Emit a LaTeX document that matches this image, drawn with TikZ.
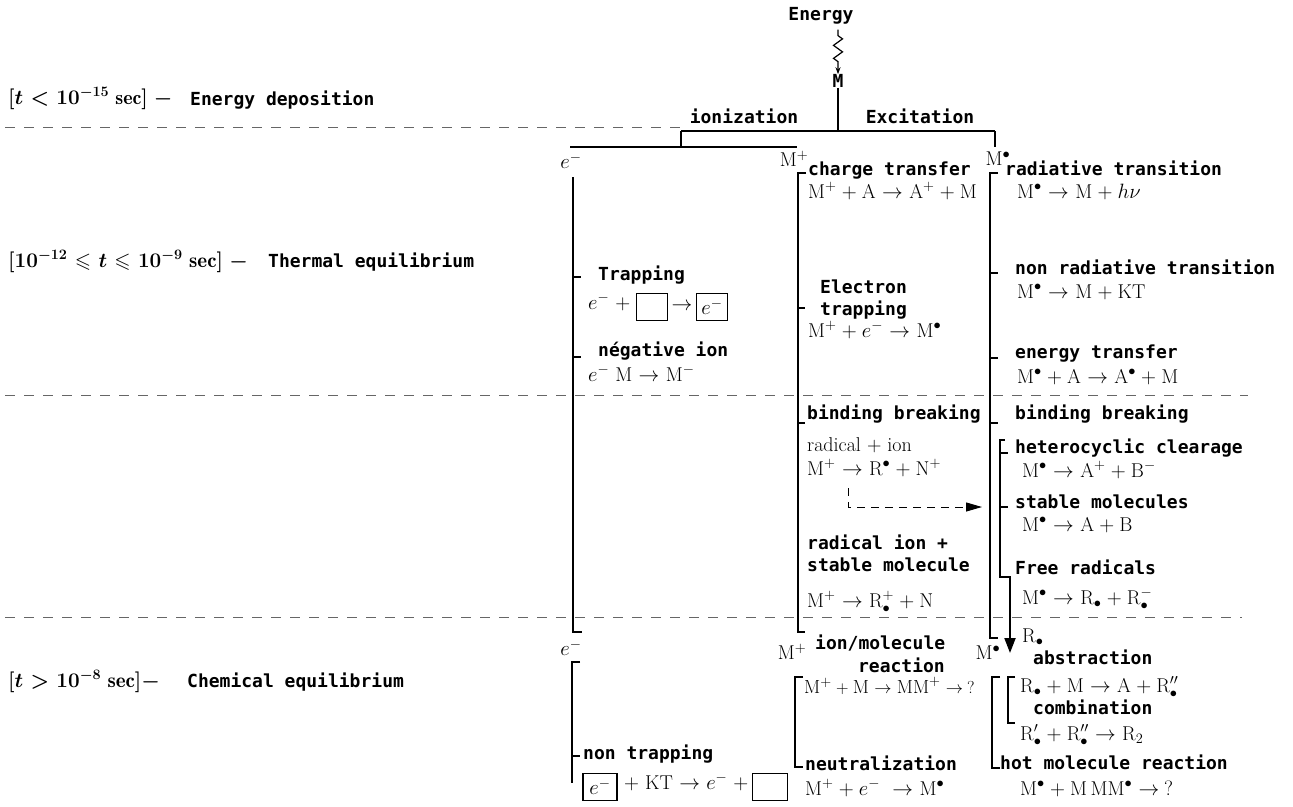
\documentclass[tikz,border=0pt]{standalone}
\usepackage{amssymb}
\usepackage{fontspec}
\newfontfamily\labfont{DejaVu Sans Mono}
\usetikzlibrary{arrows.meta,decorations.pathmorphing}
\newcommand{\MMp}{\mathrm{M}^{+}}
\newcommand{\MMs}{\mathrm{M}^{\bullet}}
\newcommand{\RRd}{\mathrm{R}_{\bullet}}
\newcommand{\toq}{\mathrel{\rightarrow}\mkern-1.5mu{?}}
\medmuskip=4.5mu plus 2mu minus 2mu
\thickmuskip=5.5mu plus 2mu
\begin{document}
\begin{tikzpicture}[x=1pt,y=-1pt,
 lbl/.style={font=\labfont\bfseries\fontsize{18}{20}\selectfont, inner sep=0pt, anchor=mid west},
 fml/.style={font=\fontsize{20}{22}\selectfont, inner sep=0pt, anchor=mid west},
 tml/.style={font=\fontsize{21}{24}\selectfont\boldmath, inner sep=0pt, anchor=mid west},
 brk/.style={line width=2pt},
 tick/.style={line width=1.6pt},
 sep/.style={draw=black!60, line width=1pt, dash pattern=on 10pt off 9pt},
 ebox/.style={draw, line width=1.5pt, minimum width=31pt, minimum height=27pt, inner sep=0pt, font=\fontsize{20}{22}\selectfont}]
\useasboundingbox (0,0) rectangle (1293,806);

% separators
\draw[sep] (5,127) -- (680,127);
\draw[sep] (5,395) -- (1248,395);
\draw[sep] (5,617) -- (1242,617);

% left time labels
\node[tml,font=\fontsize{20}{24}\selectfont\boldmath] (t1) at (8,102) {$[t < 10^{-15}\ \mathrm{sec}]\ -$};
\node[lbl] (p1) at (190,103) {Energy deposition};
\node[tml] (t2) at (8,265) {$[10^{-12} \leqslant t \leqslant 10^{-9}\ \mathrm{sec}]\ -$};
\node[lbl] (p2) at (268,265) {Thermal equilibrium};
\node[tml] (t3) at (8,685) {$[t > 10^{-8}\ \mathrm{sec}]{-}$};
\node[lbl] (p3) at (187,685) {Chemical equilibrium};

% top
\node[lbl,anchor=center] (energy) at (821,16) {Energy};
\node[lbl,anchor=center] (m0) at (838,81) {M};
\draw[line width=1.2pt, -{Stealth[length=7pt,width=5pt]}, decorate,
  decoration={zigzag, amplitude=4.5pt, segment length=13pt, pre length=6pt, post length=7pt}]
  ([yshift=-5pt]energy.south -| m0.north) -- (m0.north);
\coordinate (split) at (838,131);
\coordinate (ionL) at (681,131);
\coordinate (excR) at (995,131);
\draw[brk] (m0.south) -- (split);
\draw[brk] (ionL) -- (excR);
\draw[brk] (ionL) -- (681,147);
\draw[brk] (570,147) -- (797,147);
\draw[brk] (excR) -- (995,147);
\node[lbl,anchor=center] (ion) at (744,116) {ionization};
\node[lbl,anchor=center] (exc) at (920,116) {Excitation};

\node[fml,anchor=center] (e1) at (571,161) {$e^{-}$};
\node[fml,anchor=center] (mp1) at (794,159) {$\MMp$};
\node[fml,anchor=center] (ms1) at (998,159) {$\MMs$};

% ---- electron column ----
\draw[brk] (573,177) -- (573,632) -- (582,632);
\draw[tick] (573,277) -- (581,277);
\draw[tick] (573,357) -- (581,357);
\node[lbl] (trap) at (598,278) {Trapping};
\node[fml] (tf1) at (588,307) {$e^{-}\ +$};
\node[ebox] (tb1) at (652,307) {};
\node[fml,anchor=center] (tar) at (682,307) {$\rightarrow$};
\node[ebox] (tb2) at (712,307) {$e^{-}$};
\node[lbl] (neg) at (598,354) {négative ion};
\node[fml] (negf) at (588,379) {$e^{-}\ \mathrm{M} \rightarrow \mathrm{M}^{-}$};

\node[fml,anchor=center] (e2) at (571,648) {$e^{-}$};
\draw[brk] (580,662) -- (572,662) -- (572,783);
\draw[tick] (572,756) -- (580,756);
\node[lbl] (ntrap) at (583,757) {non trapping};
\node[ebox,minimum width=34pt] (nb1) at (600,787) {$e^{-}$};
\node[fml] (nf) at (624,787) {$+\ \mathrm{KT} \rightarrow e^{-}\ +$};
\node[ebox,minimum width=35pt] (nb2) at (770,787) {};

% ---- M+ column ----
\draw[brk] (806,173) -- (798,173) -- (798,632) -- (805,632);
\draw[tick] (798,308) -- (805,308);
\draw[tick] (798,423) -- (805,423);
\node[lbl] (ct) at (808,173) {charge transfer};
\node[fml] (ctf) at (808,196) {$\MMp + \mathrm{A} \rightarrow \mathrm{A}^{+} + \mathrm{M}$};
\node[lbl] (el1) at (820,291) {Electron};
\node[lbl] (el2) at (820,313) {trapping};
\node[fml] (elf) at (808,335) {$\MMp + e^{-} \rightarrow \MMs$};
\node[lbl] (bb1) at (807,417) {binding breaking};
\node[fml] (ri) at (807,449) {radical + ion};
\node[fml] (rif) at (807,473) {$\MMp \rightarrow \mathrm{R}^{\bullet} + \mathrm{N}^{+}$};
\coordinate (dstart) at (848,488);
\coordinate (dtip) at (982,507);
\draw[line width=1pt, dash pattern=on 8pt off 6pt, -{Triangle[length=16pt,width=9pt]}] (dstart) |- (dtip);
\node[lbl] (ris1) at (807,547) {radical ion +};
\node[lbl] (ris2) at (807,569) {stable molecule};
\node[fml] (risf) at (807,605) {$\MMp \rightarrow \mathrm{R}^{+}_{\bullet} + \mathrm{N}$};

\node[fml,anchor=center] (mp2) at (792,652) {$\MMp$};
\node[lbl] (im1) at (815,647) {ion/molecule};
\node[lbl,anchor=mid east] (im2) at (945,670) {reaction};
\draw[brk] (803,677) -- (795,677) -- (795,767) -- (803,767);
\node[fml,font=\fontsize{19}{22}\selectfont] (imf) at (804,691) {$\MMp + \mathrm{M} \rightarrow \mathrm{MM}^{+} \toq$};
\node[lbl] (neu) at (805,768) {neutralization};
\node[fml] (neuf) at (805,793) {$\MMp + e^{-}\ \rightarrow \MMs$};

% ---- M* column ----
\draw[brk] (998,173) -- (990,173) -- (990,638) -- (998,638);
\draw[tick] (990,273) -- (998,273);
\draw[tick] (990,358) -- (998,358);
\draw[tick] (990,423) -- (998,423);
\node[lbl] (rt) at (1005,173) {radiative transition};
\node[fml] (rtf) at (1017,196) {$\MMs \rightarrow \mathrm{M} + h\nu$};
\node[lbl] (nrt) at (1015,272) {non radiative transition};
\node[fml] (nrtf) at (1017,296) {$\MMs \rightarrow \mathrm{M} + \mathrm{KT}$};
\node[lbl] (et) at (1015,356) {energy transfer};
\node[fml] (etf) at (1017,381) {$\MMs + \mathrm{A} \rightarrow \mathrm{A}^{\bullet} + \mathrm{M}$};
\node[lbl] (bb2) at (1015,417) {binding breaking};

\coordinate (rtip) at (1010,653);
\draw[brk] (1005,440) -- (1000,440) -- (1000,577) -- (1010,577);
\draw[brk, -{Triangle[length=15pt,width=11pt]}] (1010,576) -- (rtip);
\draw[tick] (1000,453) -- (1008,453);
\draw[tick] (1000,507) -- (1008,507);
\node[lbl] (hc) at (1015,451) {heterocyclic clearage};
\node[fml] (hcf) at (1022,475) {$\MMs \rightarrow \mathrm{A}^{+} + \mathrm{B}^{-}$};
\node[lbl] (sm) at (1015,506) {stable molecules};
\node[fml] (smf) at (1022,529) {$\MMs \rightarrow \mathrm{A} + \mathrm{B}$};
\node[lbl] (fr) at (1015,572) {Free radicals};
\node[fml] (frf) at (1022,602) {$\MMs \rightarrow \RRd + \mathrm{R}^{-}_{\bullet}$};

\node[fml,anchor=center] (ms2) at (988,653) {$\MMs$};
\node[fml] (rdot) at (1022,640) {$\RRd$};
\draw[brk] (1000,677) -- (992,677) -- (992,768) -- (1000,768);
\draw[brk] (1015,677) -- (1008,677) -- (1008,723) -- (1015,723);
\node[lbl] (abs) at (1033,662) {abstraction};
\node[fml] (absf) at (1020,690) {$\RRd + \mathrm{M} \rightarrow \mathrm{A} + \mathrm{R}''_{\bullet}$};
\node[lbl] (comb) at (1033,712) {combination};
\node[fml] (combf) at (1020,738) {$\mathrm{R}'_{\bullet} + \mathrm{R}''_{\bullet} \rightarrow \mathrm{R}_{2}$};
\node[lbl] (hot) at (1000,767) {hot molecule reaction};
\node[fml] (hotf) at (1020,793) {$\MMs + \mathrm{M}\,\mathrm{MM}^{\bullet} \toq$};
\end{tikzpicture}
\end{document}
